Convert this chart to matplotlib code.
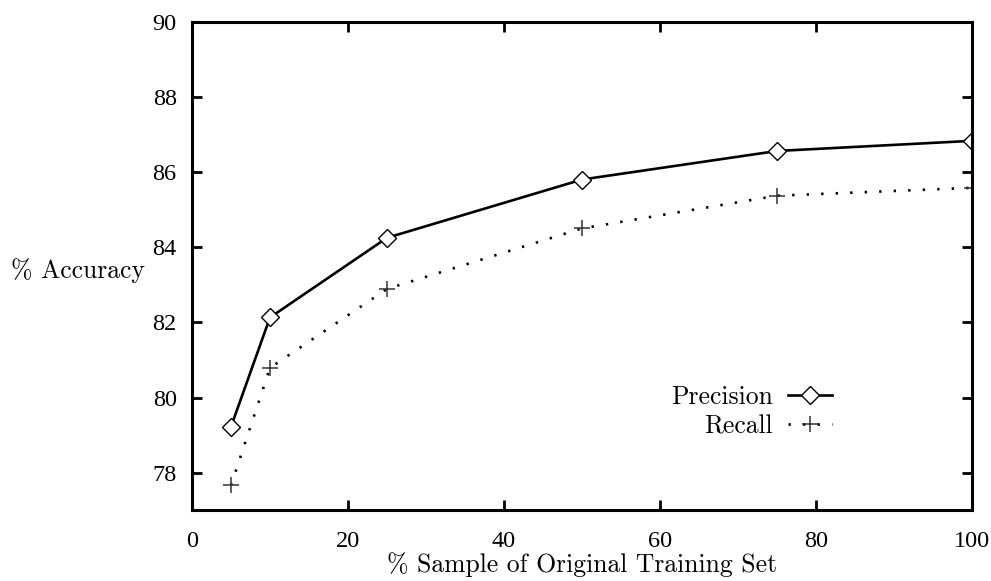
import matplotlib
matplotlib.use("Agg")
import matplotlib.pyplot as plt

# sample size (% of original training set)
sample_pct = [5, 10, 25, 50, 75, 100]
precision = [79.22, 82.13, 84.25, 85.80, 86.56, 86.83]
recall = [77.66, 80.79, 82.89, 84.50, 85.37, 85.58]

x_ticks = [0, 20, 40, 60, 80, 100]
y_ticks = [78, 80, 82, 84, 86, 88, 90]

label_font = "cmr10"
tick_font = "Liberation Serif"

fig = plt.figure(figsize=(9.91, 5.81), dpi=100)
fig.subplots_adjust(left=0.1937, right=0.981, top=0.9627, bottom=0.1217)
ax = fig.add_subplot(111)

ax.plot(sample_pct, precision, color="black", lw=1.9, marker="D",
        markersize=9, markerfacecolor="white", markeredgecolor="black",
        markeredgewidth=1.0, label="Precision")
ax.plot(sample_pct, recall, color="black", lw=1.9, linestyle=(0, (0.9, 4.6)),
        marker="+", markersize=12, markeredgecolor="#333333",
        markeredgewidth=1.1, label="Recall")

ax.set_xlim(0, 100)
ax.set_ylim(77, 90)
ax.set_xticks(x_ticks)
ax.set_yticks(y_ticks)
ax.tick_params(direction="in", length=7, width=2.0, top=True, right=True,
               labelsize=17.5)
ax.tick_params(axis="y", pad=11)
ax.tick_params(axis="x", pad=15)
for lab in ax.get_xticklabels() + ax.get_yticklabels():
    lab.set_fontfamily(tick_font)
for sp in ax.spines.values():
    sp.set_linewidth(2.2)

ax.set_xlabel("% Sample of Original Training Set", fontfamily=label_font,
              fontsize=18.5, labelpad=0)
ax.set_ylabel("% Accuracy", fontfamily=label_font, fontsize=18.5, rotation=0,
              ha="right", va="center")
ax.yaxis.set_label_coords(-0.06, 0.49)

leg = ax.legend(loc="upper right", bbox_to_anchor=(0.8205, 0.255),
                frameon=False, markerfirst=False, handlelength=1.7,
                borderpad=0, borderaxespad=0, labelspacing=0.2,
                handletextpad=0.6, prop={"family": label_font, "size": 18.5})

fig.savefig("out.png", dpi=100)
